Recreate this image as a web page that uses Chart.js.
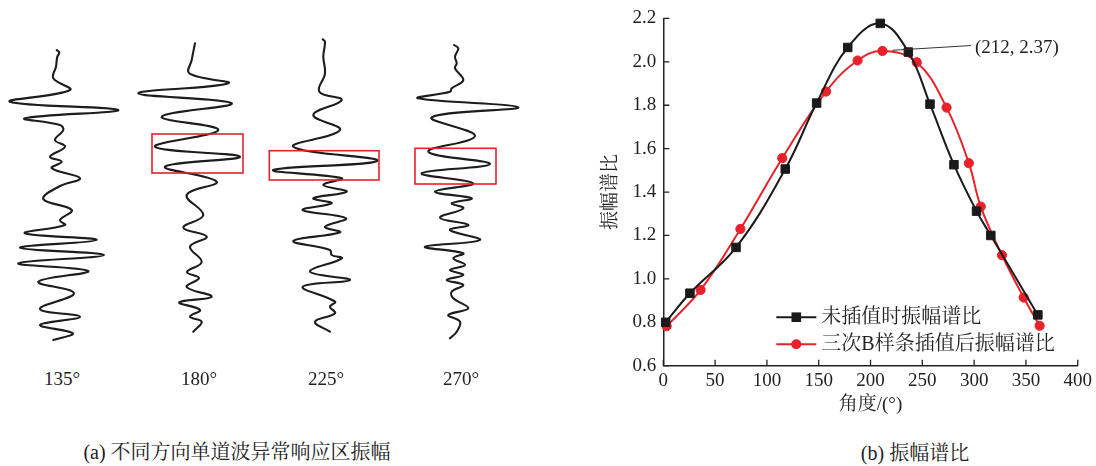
<!DOCTYPE html>
<html>
<head>
<meta charset="utf-8">
<script src="https://cdn.jsdelivr.net/npm/chart.js@4/dist/chart.umd.min.js"></script>
<style>
  html, body { margin: 0; padding: 0; background: #fff; }
  #page { position: relative; width: 1096px; height: 466px; overflow: hidden; background: #fff;
          font-family: "Liberation Serif", "Noto Serif CJK SC", "Noto Sans CJK SC", serif; color: #222; }
  canvas { position: absolute; }
  .lbl { position: absolute; transform: translate(-50%, -50%); white-space: nowrap; font-size: 19px; line-height: 1; }
  .cap { font-size: 20px; }
</style>
</head>
<body>
<div id="page">
  <canvas id="t135" width="140" height="320" style="left:-13px;top:30px"></canvas>
  <canvas id="t180" width="140" height="320" style="left:123px;top:30px"></canvas>
  <canvas id="t225" width="140" height="320" style="left:254px;top:30px"></canvas>
  <canvas id="t270" width="140" height="320" style="left:385px;top:30px"></canvas>
  <canvas id="spec" width="506" height="420" style="left:590px;top:0px"></canvas>
  <div class="lbl" id="lab135" style="left:62px;top:378px"></div>
  <div class="lbl" id="lab180" style="left:199px;top:378px"></div>
  <div class="lbl" id="lab225" style="left:326px;top:378px"></div>
  <div class="lbl" id="lab270" style="left:461px;top:378px"></div>
  <div class="lbl cap" id="capA" style="left:237px;top:452px"></div>
  <div class="lbl cap" id="capB" style="left:915px;top:453px"></div>
</div>
<script>
// ---------- DATA ----------
// (a) single-trace waveforms: amplitude (relative to trace axis) and time (downwards)
const traceLabels = ["135°", "180°", "225°", "270°"];

const amp135 = [-0.3, 2.3, 0.3, -1, -3.7, 13, -47, 61.3, -32, 3, 6.3, -2, 8, -7, 4.7, -5.3, 23, 3, -13.7, 14.7, 3, 8, -32, 39.7, -37, 47, -38.7, 31.3, -18.7, 17, -17, 23, -17, 15.7, -3.7];
const time135 = [10, 12.7, 16.7, 26.7, 38.3, 50, 61.7, 70, 78.3, 85, 90, 100, 106.7, 116.7, 121.7, 128.3, 138.3, 146, 159, 170, 180, 185, 193.3, 200, 207.7, 215, 223.3, 231, 241.7, 253.3, 269, 276.7, 285, 293.3, 300];

const amp180 = [2, -1.3, -3.7, 35.3, -54.7, 38.7, -31.3, 25.3, -38, 47, -28, 23.7, -6.3, 10.3, -9.7, 13.7, -3, 8.7, -6, 6, -6.3, 18.7, -13.7, 7, -3, 8.7, 0.3];
const time180 = [3.3, 20, 33.3, 43.3, 53.3, 63.3, 76.7, 90, 106.7, 116.7, 126.7, 141.7, 155, 175, 187.7, 196.7, 206.7, 222, 232, 238, 247, 256.7, 262.3, 270, 276.7, 281.7, 291.7];

const amp225 = [-1.3, 1, -0.7, 1, -4.7, 17.7, -10.7, 16, -30.7, 53.3, -50.7, 17.7, -0.7, 22.7, -10.7, 7.7, -21.3, 22, 1, 16, -30.7, 6, 7.7, 17.7, -14, 26, -21.3, 11, 6, 11, -9, 6];
const time225 = [-0.7, 1.7, 16.7, 33.3, 51.7, 60, 75, 90, 106.7, 120.7, 130, 138.3, 145, 151.7, 158.3, 163.3, 170, 178.3, 186.7, 192.3, 201, 210, 215, 218.3, 231.7, 240, 246.7, 261.7, 266.7, 273.3, 281.7, 291.7];

const amp270 = [-1, 3.3, 0, 1.7, 0, 8.3, -3.3, -5, -36.7, 63.3, -23.3, 20, -26.7, 35, -33.3, 18.3, -20, 16.7, -3.3, 8.3, -15, 13.3, -5, 25, -30, 8.3, -1.7, 10, -5, 8.3, -8.3, 8.3, -3.3, -1.7, 13.3, -6.7, 5, 1.7, -5];
const time270 = [5, 8.3, 16.7, 23.3, 28.3, 40, 48.3, 51.7, 58.3, 67.3, 77.3, 96, 111.7, 124, 133.3, 143.3, 151.7, 158.3, 163.3, 168.3, 177.7, 185, 190, 200, 206.7, 213.3, 218.3, 225, 230, 235, 240, 245, 251.7, 258.3, 268.3, 275, 281.7, 291.7, 298.3];

// anomaly response windows [ampMin, ampMax, timeMin, timeMax] (null = none)
const window135 = null;
const window180 = [-41, 50, 94, 133];
const window225 = [-54.7, 55, 110.7, 140];
const window270 = [-40, 41, 108.3, 144];

// (b) amplitude spectral ratio vs. angle
const angleRaw = [2.3, 25.7, 70.2, 117.7, 148, 178, 209.4, 236.5, 257.4, 280.5, 302.3, 316.1, 361.5];
const ratioRaw = [0.80, 0.934, 1.145, 1.506, 1.81, 2.066, 2.177, 2.045, 1.805, 1.526, 1.312, 1.20, 0.834];
const angleSpline = [3.2, 36, 74.4, 114.8, 157.1, 187.5, 211.5, 244.6, 273.4, 294.9, 306.4, 326.9, 347.8, 363.2];
const ratioSpline = [0.782, 0.949, 1.23, 1.556, 1.863, 2.006, 2.05, 1.998, 1.789, 1.533, 1.333, 1.109, 0.914, 0.784];

const xTicks = [0, 50, 100, 150, 200, 250, 300, 350, 400];
const yTicks = [0.6, 0.8, 1.0, 1.2, 1.4, 1.6, 1.8, 2.0, 2.2];

const seriesNames = ["未插值时振幅谱比", "三次B样条插值后振幅谱比"];
const xTitle = "角度/(°)";
const yTitle = "振幅谱比";
const calloutText = "(212, 2.37)";
const calloutFrom = [221, 2.053];
const calloutTo = [297, 2.075];
const captionA = "(a) 不同方向单道波异常响应区振幅";
const captionB = "(b) 振幅谱比";

// ---------- RENDER ----------
const SERIF = '"Liberation Serif", "Noto Serif CJK SC", "Noto Sans CJK SC", serif';
const RED = '#e8212a';
const BLK = '#1a1a1a';

document.getElementById('capA').textContent = captionA;
document.getElementById('capB').textContent = captionB;
['lab135', 'lab180', 'lab225', 'lab270'].forEach((id, i) => {
  document.getElementById(id).textContent = traceLabels[i];
});

const windowPlugin = {
  id: 'windowBox',
  afterDatasetsDraw(chart, args, opts) {
    const w = opts.box;
    if (!w) return;
    const { ctx, scales: { x, y } } = chart;
    const x0 = x.getPixelForValue(w[0]), x1 = x.getPixelForValue(w[1]);
    const y0 = y.getPixelForValue(w[2]), y1 = y.getPixelForValue(w[3]);
    ctx.save();
    ctx.strokeStyle = RED;
    ctx.lineWidth = 1.6;
    ctx.strokeRect(x0, y0, x1 - x0, y1 - y0);
    ctx.restore();
  }
};

function makeTrace(id, amps, times, box) {
  const pts = amps.map((a, i) => ({ x: a, y: times[i] }));
  new Chart(document.getElementById(id), {
    type: 'scatter',
    data: { datasets: [{ data: pts, showLine: true, borderColor: '#1c1c1c', borderWidth: 2.1,
      pointRadius: 0, tension: 0.4, fill: false, clip: false, borderCapStyle: 'round', borderJoinStyle: 'round' }] },
    options: {
      responsive: false, animation: false, events: [],
      layout: { padding: 0 },
      plugins: { legend: { display: false }, tooltip: { enabled: false }, windowBox: { box } },
      scales: {
        x: { type: 'linear', min: -70, max: 70, display: false },
        y: { type: 'linear', min: -10, max: 310, reverse: true, display: false }
      }
    },
    plugins: [windowPlugin]
  });
}
makeTrace('t135', amp135, time135, window135);
makeTrace('t180', amp180, time180, window180);
makeTrace('t225', amp225, time225, window225);
makeTrace('t270', amp270, time270, window270);

// (b) chart
const decoPlugin = {
  id: 'deco',
  afterDraw(chart) {
    const { ctx, chartArea: ca, scales: { x, y } } = chart;
    ctx.save();
    // inward tick marks
    ctx.strokeStyle = '#222';
    ctx.lineWidth = 1.3;
    ctx.beginPath();
    xTicks.forEach(v => { const px = x.getPixelForValue(v); ctx.moveTo(px, ca.bottom); ctx.lineTo(px, ca.bottom - 6); });
    yTicks.forEach(v => { const py = y.getPixelForValue(v); ctx.moveTo(ca.left, py); ctx.lineTo(ca.left + 6, py); });
    ctx.stroke();

    // callout
    ctx.strokeStyle = '#333';
    ctx.lineWidth = 1;
    ctx.beginPath();
    ctx.moveTo(x.getPixelForValue(calloutFrom[0]), y.getPixelForValue(calloutFrom[1]));
    ctx.lineTo(x.getPixelForValue(calloutTo[0]), y.getPixelForValue(calloutTo[1]));
    ctx.stroke();
    ctx.fillStyle = '#222';
    ctx.font = '19px ' + SERIF;
    ctx.textBaseline = 'middle';
    ctx.textAlign = 'left';
    ctx.fillText(calloutText, x.getPixelForValue(calloutTo[0]) + 4, y.getPixelForValue(calloutTo[1]) + 2);

    // legend (inside plot, lower right)
    const lx0 = ca.left + 113, lx1 = ca.left + 153, mx = ca.left + 133, tx = ca.left + 158;
    const rows = [ca.bottom - 48.5, ca.bottom - 21.5];
    ctx.font = '20px ' + SERIF;
    // row 1
    ctx.strokeStyle = BLK; ctx.lineWidth = 2;
    ctx.beginPath(); ctx.moveTo(lx0, rows[0]); ctx.lineTo(lx1, rows[0]); ctx.stroke();
    ctx.fillStyle = BLK; ctx.fillRect(mx - 4.8, rows[0] - 4.8, 9.6, 9.6);
    ctx.fillStyle = '#222'; ctx.fillText(seriesNames[0], tx, rows[0] + 1);
    // row 2
    ctx.strokeStyle = RED; ctx.lineWidth = 2;
    ctx.beginPath(); ctx.moveTo(lx0, rows[1]); ctx.lineTo(lx1, rows[1]); ctx.stroke();
    ctx.fillStyle = RED; ctx.beginPath(); ctx.arc(mx, rows[1], 5, 0, Math.PI * 2); ctx.fill();
    ctx.fillStyle = '#222'; ctx.fillText(seriesNames[1], tx, rows[1] + 1);
    ctx.restore();
  }
};

new Chart(document.getElementById('spec'), {
  type: 'scatter',
  data: {
    datasets: [
      { label: seriesNames[0], data: angleRaw.map((a, i) => ({ x: a, y: ratioRaw[i] })),
        showLine: true, tension: 0.4, borderColor: BLK, backgroundColor: BLK, borderWidth: 2,
        pointStyle: 'rect', pointRadius: 6, pointBorderWidth: 1, pointBorderColor: BLK, pointBackgroundColor: BLK, clip: false },
      { label: seriesNames[1], data: angleSpline.map((a, i) => ({ x: a, y: ratioSpline[i] })),
        showLine: true, tension: 0.4, borderColor: RED, backgroundColor: RED, borderWidth: 2,
        pointStyle: 'circle', pointRadius: 4.6, pointBorderWidth: 1, pointBorderColor: RED, pointBackgroundColor: RED, clip: false }
    ]
  },
  options: {
    responsive: false, animation: false, events: [],
    layout: { padding: { top: 14.3, right: 17, left: 0, bottom: 0 } },
    plugins: { legend: { display: false }, tooltip: { enabled: false } },
    scales: {
      x: {
        type: 'linear', min: 0, max: 400,
        afterBuildTicks: s => { s.ticks = xTicks.map(v => ({ value: v })); },
        afterFit: s => { s.height = 54.3; },
        grid: { drawOnChartArea: false, drawTicks: false },
        border: { display: true, color: '#222', width: 1.5 },
        ticks: { color: '#222', font: { family: SERIF, size: 19 }, padding: 4, maxRotation: 0, autoSkip: false },
        title: { display: true, text: xTitle, color: '#222', font: { family: SERIF, size: 19 }, padding: { top: 0, bottom: 4 } }
      },
      y: {
        type: 'linear', min: 0.6, max: 2.2,
        afterBuildTicks: s => { s.ticks = yTicks.map(v => ({ value: v })); },
        afterFit: s => { s.width = 73.3; },
        grid: { drawOnChartArea: false, drawTicks: false },
        border: { display: true, color: '#222', width: 1.5 },
        ticks: { color: '#222', font: { family: SERIF, size: 19 }, padding: 7, autoSkip: false,
                 callback: v => Number(v).toFixed(1) },
        title: { display: true, text: yTitle, color: '#222', font: { family: SERIF, size: 19 }, padding: { top: 10, bottom: 0 } }
      }
    }
  },
  plugins: [decoPlugin]
});
</script>
</body>
</html>
